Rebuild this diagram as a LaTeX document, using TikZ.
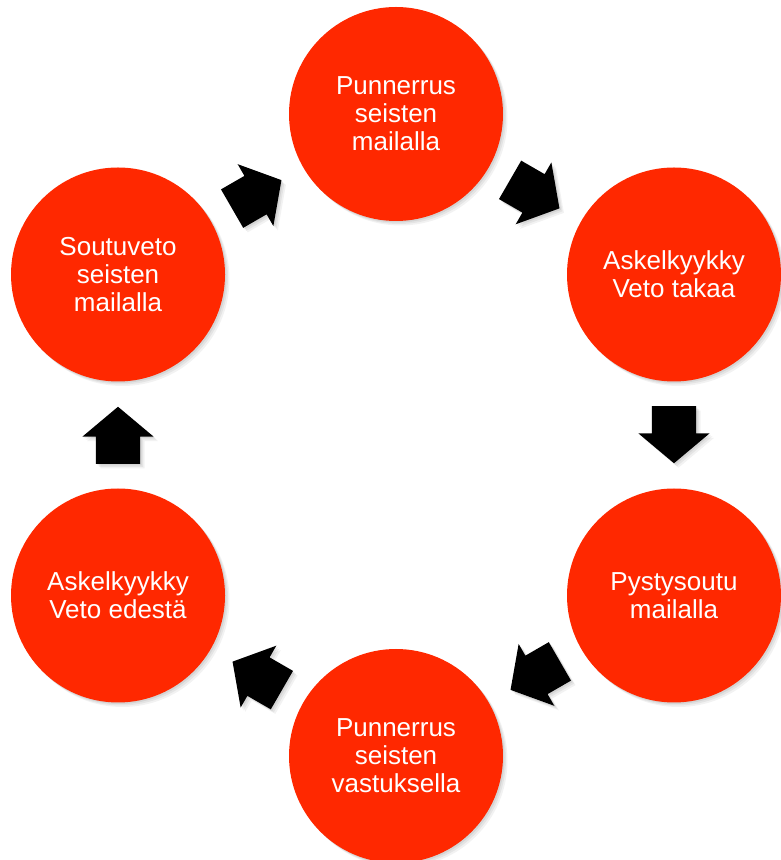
\documentclass[tikz,border=0pt]{standalone}
\usepackage{fontspec}
\setmainfont{Liberation Sans}
\usetikzlibrary{shapes.arrows,shadows,calc}
\definecolor{stepred}{RGB}{255,40,0}
\tikzset{
  softshadow/.style={
    general shadow={fill=black,opacity=0.07,shadow xshift=1.5pt,shadow yshift=-1.5pt},
    general shadow={fill=black,opacity=0.06,shadow xshift=3pt,shadow yshift=-3pt},
    general shadow={fill=black,opacity=0.05,shadow xshift=4.5pt,shadow yshift=-4.5pt}},
  stepcircle/.style={circle,fill=stepred,minimum size=214pt,inner sep=0pt,
    text=white,align=center,font=\fontsize{26}{28}\selectfont,softshadow},
  blockarrow/.style={single arrow,fill=black,draw=none,minimum height=57pt,
    inner xsep=0pt,inner ysep=22pt,single arrow head extend=13.5pt,
    single arrow tip angle=100,anchor=tip,softshadow}
}
\begin{document}
\begin{tikzpicture}[x=1pt,y=1pt]
\useasboundingbox (0,0) rectangle (781,860);
\coordinate (c) at (396pt,425pt);
\node[stepcircle] (n1) at ($(c)+(90:321pt)$) {Punnerrus\\seisten\\mailalla};
\node[stepcircle] (n2) at ($(c)+(30:321pt)$) {Askelkyykky\\Veto takaa};
\node[stepcircle] (n3) at ($(c)+(-30:321pt)$) {Pystysoutu\\mailalla};
\node[stepcircle] (n4) at ($(c)+(-90:321pt)$) {Punnerrus\\seisten\\vastuksella};
\node[stepcircle] (n5) at ($(c)+(210:321pt)$) {Askelkyykky\\Veto edestä};
\node[stepcircle] (n6) at ($(c)+(150:321pt)$) {Soutuveto\\seisten\\mailalla};
\node[blockarrow,rotate=-30] (a12) at ($($(n1)!0.5!(n2)$)+(-30:28.5pt)$) {};
\node[blockarrow,rotate=-90] (a23) at ($($(n2)!0.5!(n3)$)+(-90:28.5pt)$) {};
\node[blockarrow,rotate=210] (a34) at ($($(n3)!0.5!(n4)$)+(210:28.5pt)$) {};
\node[blockarrow,rotate=150] (a45) at ($($(n4)!0.5!(n5)$)+(150:28.5pt)$) {};
\node[blockarrow,rotate=90] (a56) at ($($(n5)!0.5!(n6)$)+(90:28.5pt)$) {};
\node[blockarrow,rotate=30] (a61) at ($($(n6)!0.5!(n1)$)+(30:28.5pt)$) {};
\end{tikzpicture}
\end{document}
